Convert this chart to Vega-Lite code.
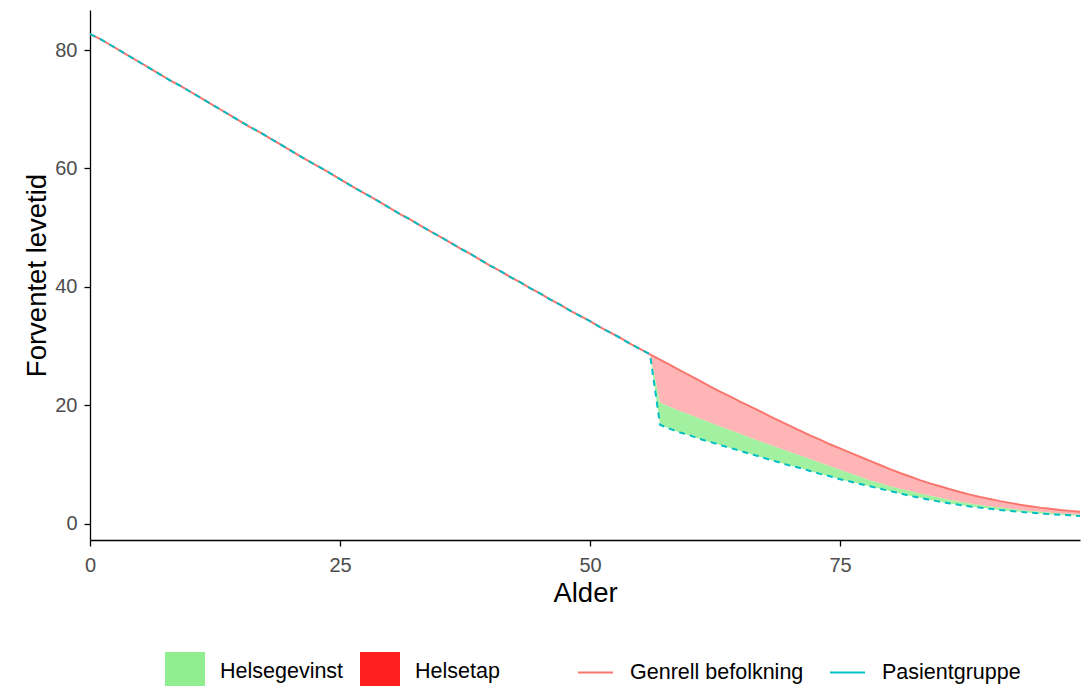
{
  "$schema": "https://vega.github.io/schema/vega-lite/v6.json",
  "width": 990,
  "height": 530,
  "autosize": {"type": "none"},
  "padding": {"left": 90, "top": 10, "right": 11, "bottom": 146},
  "background": "white",
  "config": {
    "font": "Liberation Sans",
    "view": {"stroke": null},
    "axis": {
      "grid": false,
      "labelFlush": false,
      "domainColor": "#000000",
      "domainWidth": 1.3,
      "tickColor": "#000000",
      "tickWidth": 1.3,
      "tickSize": 6,
      "labelColor": "#4D4D4D",
      "labelFontSize": 20,
      "labelFont": "Liberation Sans",
      "titleFont": "Liberation Sans",
      "titleFontSize": 27.5,
      "titleFontWeight": "normal",
      "titleColor": "#000000"
    },
    "legend": {
      "labelFont": "Liberation Sans",
      "labelFontSize": 21.5,
      "labelColor": "#000000",
      "padding": 0,
      "labelLimit": 400
    }
  },
  "data": {"values": [
    {"age":0,"G":82.7,"P":82.7},{"age":1,"G":81.9,"P":81.9},{"age":2,"G":80.9,"P":80.9},{"age":3,"G":79.9,"P":79.9},{"age":4,"G":78.9,"P":78.9},
    {"age":5,"G":77.9,"P":77.9},{"age":6,"G":76.9,"P":76.9},{"age":7,"G":75.9,"P":75.9},{"age":8,"G":74.9,"P":74.9},{"age":9,"G":74.0,"P":74.0},
    {"age":10,"G":73.0,"P":73.0},{"age":11,"G":72.0,"P":72.0},{"age":12,"G":71.0,"P":71.0},{"age":13,"G":70.0,"P":70.0},{"age":14,"G":69.0,"P":69.0},
    {"age":15,"G":68.0,"P":68.0},{"age":16,"G":67.0,"P":67.0},{"age":17,"G":66.1,"P":66.1},{"age":18,"G":65.1,"P":65.1},{"age":19,"G":64.1,"P":64.1},
    {"age":20,"G":63.1,"P":63.1},{"age":21,"G":62.1,"P":62.1},{"age":22,"G":61.1,"P":61.1},{"age":23,"G":60.2,"P":60.2},{"age":24,"G":59.2,"P":59.2},
    {"age":25,"G":58.2,"P":58.2},{"age":26,"G":57.2,"P":57.2},{"age":27,"G":56.2,"P":56.2},{"age":28,"G":55.3,"P":55.3},{"age":29,"G":54.3,"P":54.3},
    {"age":30,"G":53.3,"P":53.3},{"age":31,"G":52.3,"P":52.3},{"age":32,"G":51.4,"P":51.4},{"age":33,"G":50.4,"P":50.4},{"age":34,"G":49.4,"P":49.4},
    {"age":35,"G":48.5,"P":48.5},{"age":36,"G":47.5,"P":47.5},{"age":37,"G":46.5,"P":46.5},{"age":38,"G":45.6,"P":45.6},{"age":39,"G":44.6,"P":44.6},
    {"age":40,"G":43.6,"P":43.6},{"age":41,"G":42.7,"P":42.7},{"age":42,"G":41.7,"P":41.7},{"age":43,"G":40.8,"P":40.8},{"age":44,"G":39.8,"P":39.8},
    {"age":45,"G":38.9,"P":38.9},{"age":46,"G":37.9,"P":37.9},{"age":47,"G":37.0,"P":37.0},{"age":48,"G":36.0,"P":36.0},{"age":49,"G":35.1,"P":35.1},
    {"age":50,"G":34.2,"P":34.2},{"age":51,"G":33.2,"P":33.2},{"age":52,"G":32.3,"P":32.3},{"age":53,"G":31.4,"P":31.4},{"age":54,"G":30.4,"P":30.4},
    {"age":55,"G":29.5,"P":29.5},{"age":56,"G":28.6,"M":28.6,"P":28.6},{"age":57,"G":27.7,"M":20.4,"P":16.7},{"age":58,"G":26.8,"M":19.7,"P":16.0},
    {"age":59,"G":25.9,"M":19.0,"P":15.4},{"age":60,"G":25.0,"M":18.4,"P":14.9},{"age":61,"G":24.1,"M":17.7,"P":14.3},{"age":62,"G":23.2,"M":17.1,"P":13.8},
    {"age":63,"G":22.3,"M":16.4,"P":13.3},{"age":64,"G":21.5,"M":15.8,"P":12.8},{"age":65,"G":20.6,"M":15.2,"P":12.3},{"age":66,"G":19.8,"M":14.5,"P":11.8},
    {"age":67,"G":19.0,"M":13.9,"P":11.3},{"age":68,"G":18.1,"M":13.3,"P":10.8},{"age":69,"G":17.3,"M":12.7,"P":10.3},{"age":70,"G":16.5,"M":12.1,"P":9.8},
    {"age":71,"G":15.7,"M":11.5,"P":9.4},{"age":72,"G":14.9,"M":10.9,"P":8.9},{"age":73,"G":14.2,"M":10.3,"P":8.4},{"age":74,"G":13.4,"M":9.7,"P":8.0},
    {"age":75,"G":12.7,"M":9.1,"P":7.5},{"age":76,"G":12.0,"M":8.5,"P":7.1},{"age":77,"G":11.3,"M":7.9,"P":6.7},{"age":78,"G":10.6,"M":7.3,"P":6.3},
    {"age":79,"G":9.9,"M":6.8,"P":5.9},{"age":80,"G":9.2,"M":6.3,"P":5.5},{"age":81,"G":8.55,"M":5.9,"P":5.1},{"age":82,"G":7.95,"M":5.5,"P":4.7},
    {"age":83,"G":7.35,"M":5.1,"P":4.35},{"age":84,"G":6.8,"M":4.7,"P":4.0},{"age":85,"G":6.3,"M":4.35,"P":3.7},{"age":86,"G":5.8,"M":4.0,"P":3.4},
    {"age":87,"G":5.35,"M":3.7,"P":3.15},{"age":88,"G":4.9,"M":3.4,"P":2.9},{"age":89,"G":4.5,"M":3.15,"P":2.7},{"age":90,"G":4.15,"M":2.9,"P":2.5},
    {"age":91,"G":3.8,"M":2.7,"P":2.3},{"age":92,"G":3.5,"M":2.5,"P":2.15},{"age":93,"G":3.2,"M":2.3,"P":2.0},{"age":94,"G":2.95,"M":2.15,"P":1.85},
    {"age":95,"G":2.7,"M":2.0,"P":1.72},{"age":96,"G":2.5,"M":1.85,"P":1.6},{"age":97,"G":2.3,"M":1.72,"P":1.5},{"age":98,"G":2.15,"M":1.6,"P":1.4},
    {"age":99,"G":2.0,"M":1.5,"P":1.3}
  ]},
  "encoding": {
    "x": {"field": "age", "type": "quantitative",
      "scale": {"domain": [0, 99], "nice": false, "zero": false},
      "axis": {"values": [0, 25, 50, 75], "title": "Alder", "labelPadding": 9, "titlePadding": 4}}
  },
  "layer": [
    {
      "transform": [{"filter": "isValid(datum.M)"}],
      "mark": {"type": "area", "fillOpacity": 0.33, "interpolate": "linear"},
      "encoding": {
        "y": {"field": "M", "type": "quantitative",
          "scale": {"domain": [-2.77, 86.77], "nice": false, "zero": false},
          "axis": {"values": [0, 20, 40, 60, 80], "title": "Forventet levetid", "labelPadding": 7, "titlePadding": 3}},
        "y2": {"field": "G"},
        "fill": {"datum": "Helsetap", "type": "nominal",
          "scale": {"domain": ["Helsegevinst", "Helsetap"], "range": ["#90EE90", "#FF1F1F"]},
          "legend": {"title": null, "orient": "none", "legendX": 75, "legendY": 642, "direction": "horizontal",
            "symbolType": "square", "symbolSize": 1600, "symbolStrokeWidth": 0, "symbolOpacity": 1,
            "labelOffset": 15, "columnPadding": 16}}
      }
    },
    {
      "transform": [{"filter": "isValid(datum.M)"}],
      "mark": {"type": "area", "fillOpacity": 0.85, "interpolate": "linear"},
      "encoding": {
        "y": {"field": "P", "type": "quantitative",
          "scale": {"domain": [-2.77, 86.77], "nice": false, "zero": false},
          "axis": {"values": [0, 20, 40, 60, 80], "title": "Forventet levetid", "labelPadding": 7, "titlePadding": 3}},
        "y2": {"field": "M"},
        "fill": {"datum": "Helsegevinst", "type": "nominal"}
      }
    },
    {
      "mark": {"type": "line", "strokeWidth": 2},
      "encoding": {
        "y": {"field": "G", "type": "quantitative",
          "scale": {"domain": [-2.77, 86.77], "nice": false, "zero": false},
          "axis": {"values": [0, 20, 40, 60, 80], "title": "Forventet levetid", "labelPadding": 7, "titlePadding": 3}},
        "stroke": {"datum": "Genrell befolkning", "type": "nominal",
          "scale": {"domain": ["Genrell befolkning", "Pasientgruppe"], "range": ["#F8766D", "#00BFC4"]},
          "legend": {"title": null, "orient": "none", "legendX": 487, "legendY": 644, "direction": "horizontal",
            "symbolType": "stroke", "symbolSize": 1225, "symbolStrokeWidth": 2, "symbolOpacity": 1,
            "symbolDash": [1, 0], "labelOffset": 16, "columnPadding": 22}}
      }
    },
    {
      "mark": {"type": "line", "strokeWidth": 2, "strokeDash": [6, 5]},
      "encoding": {
        "y": {"field": "P", "type": "quantitative",
          "scale": {"domain": [-2.77, 86.77], "nice": false, "zero": false},
          "axis": {"values": [0, 20, 40, 60, 80], "title": "Forventet levetid", "labelPadding": 7, "titlePadding": 3}},
        "stroke": {"datum": "Pasientgruppe", "type": "nominal"}
      }
    }
  ]
}
